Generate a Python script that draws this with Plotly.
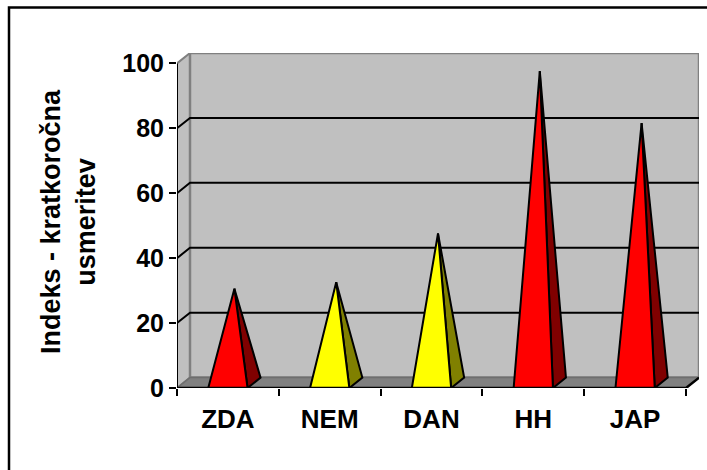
import plotly.graph_objects as go

# ---- data ----
categories = ["ZDA", "NEM", "DAN", "HH", "JAP"]
values = [29, 31, 46, 96, 80]
y_ticks = [0, 20, 40, 60, 80, 100]
y_title = "Indeks - kratkoročna<br>usmeritev"

# ---- style ----
front_colors = ["#FF0000", "#FFFF00", "#FFFF00", "#FF0000", "#FF0000"]
side_colors = ["#800000", "#808000", "#808000", "#800000", "#800000"]
FONT = "Liberation Sans, Arial, sans-serif"

# 3D depth offset (in data units)
DX = 0.1277
DY = 3.2
HW = 0.193  # pyramid half base width in category units
YMAX = 100
N = len(categories)

# plot area in pixels
L, R, T, B = 177, 8, 53, 82
W, H = 707, 470
PW = W - L - R
PH = H - T - B

fig = go.Figure()

shapes = []
# left wall
shapes.append(dict(type="path", xref="x", yref="y", layer="below",
                   path=f"M 0 0 L {DX} {DY} L {DX} {YMAX+DY} L 0 {YMAX} Z",
                   fillcolor="#C0C0C0", line=dict(color="#808080", width=2)))
# back wall
shapes.append(dict(type="rect", xref="x", yref="y", layer="below",
                   x0=DX, y0=DY, x1=N + DX, y1=YMAX + DY,
                   fillcolor="#C0C0C0", line=dict(color="#808080", width=2.5)))
# floor
shapes.append(dict(type="path", xref="x", yref="y", layer="below",
                   path=f"M 0 0 L {DX} {DY} L {N+DX} {DY} L {N} 0 Z",
                   fillcolor="#808080", line=dict(color="#6E6E6E", width=1.5)))
# gridlines
for g in y_ticks:
    if g == 0 or g == YMAX:
        continue
    shapes.append(dict(type="path", xref="x", yref="y", layer="below",
                       path=f"M 0 {g} L {DX} {g+DY} L {N+DX} {g+DY}",
                       line=dict(color="black", width=2)))

# pyramids
for i, (cat, v) in enumerate(zip(categories, values)):
    cx = i + 0.5
    # side face
    fig.add_trace(go.Scatter(
        x=[cx + HW, cx + HW + DX, cx + DX / 2, cx + HW],
        y=[0, DY, v + DY / 2, 0],
        mode="lines", fill="toself", fillcolor=side_colors[i],
        line=dict(color="black", width=2), hoverinfo="skip", showlegend=False))
    # front face
    fig.add_trace(go.Scatter(
        x=[cx - HW, cx + HW, cx + DX / 2, cx - HW],
        y=[0, 0, v + DY / 2, 0],
        mode="lines", fill="toself", fillcolor=front_colors[i],
        line=dict(color="black", width=2), hoverinfo="skip", showlegend=False,
        name=cat))

# axis lines
shapes.append(dict(type="line", xref="x", yref="y", x0=0, y0=0, x1=0, y1=YMAX,
                   line=dict(color="black", width=2)))
shapes.append(dict(type="path", xref="x", yref="y",
                   path=f"M 0 0 L {N} 0 L {N+DX} {DY}",
                   line=dict(color="black", width=2.5)))

# outer frame (in paper coords)
def px(xp):
    return (xp - L) / PW

def py(yp):
    return (H - B - yp) / PH

shapes.append(dict(type="rect", xref="paper", yref="paper",
                   x0=px(9), y0=py(490), x1=px(730), y1=py(7.5),
                   line=dict(color="black", width=2.5), fillcolor="rgba(0,0,0,0)"))

fig.update_layout(
    width=W, height=H,
    margin=dict(l=L, r=R, t=T, b=B, pad=0),
    paper_bgcolor="white", plot_bgcolor="white",
    shapes=shapes,
    showlegend=False,
    font=dict(family=FONT, color="black"),
    annotations=[dict(
        text=y_title, xref="paper", yref="paper",
        x=px(68), y=py(222), xanchor="center", yanchor="middle",
        textangle=-90, showarrow=False,
        font=dict(family=FONT, size=27, color="black", weight="bold"))],
)

fig.update_xaxes(
    range=[0, N + DX], showgrid=False, zeroline=False, showline=False,
    tickmode="array", tickvals=[i + 0.5 for i in range(N)], ticktext=categories,
    ticks="", tickfont=dict(family=FONT, size=26, color="black", weight="bold"),
    minor=dict(tickmode="array", tickvals=list(range(N + 1)), ticks="outside",
               ticklen=7, tickwidth=2, tickcolor="black"),
    ticklabelstandoff=13, fixedrange=True,
)
fig.update_yaxes(
    range=[0, YMAX + DY], showgrid=False, zeroline=False, showline=False,
    tickmode="array", tickvals=y_ticks, ticks="outside", ticklen=7,
    tickwidth=2, tickcolor="black",
    tickfont=dict(family=FONT, size=25, color="black", weight="bold"),
    fixedrange=True,
)

fig.write_html("out.html")
